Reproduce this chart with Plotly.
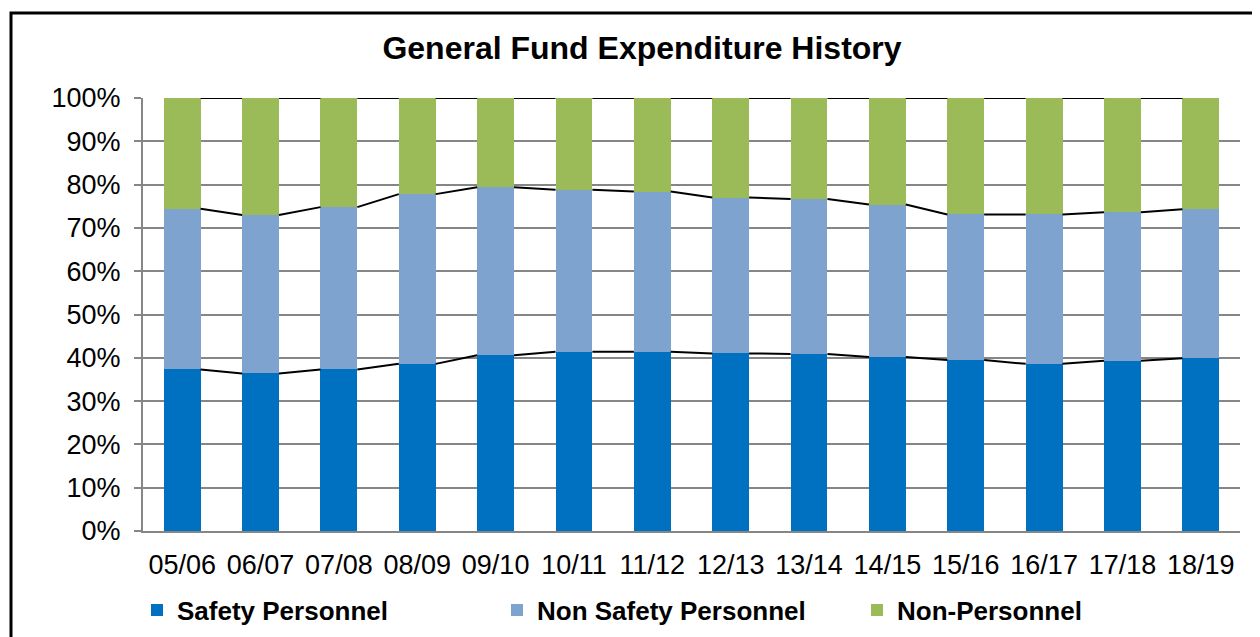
import plotly.graph_objects as go

# 회계연도별 일반기금 지출 비중 (%)
years = ['05/06', '06/07', '07/08', '08/09', '09/10', '10/11', '11/12',
         '12/13', '13/14', '14/15', '15/16', '16/17', '17/18', '18/19']
safety = [37.3, 36.4, 37.3, 38.6, 40.6, 41.4, 41.4, 41.0, 40.9, 40.2, 39.5, 38.6, 39.3, 39.9]
non_safety = [37.1, 36.6, 37.5, 39.2, 38.8, 37.4, 37.0, 36.0, 35.8, 35.2, 33.6, 34.5, 34.3, 34.4]
non_personnel = [25.6, 27.0, 25.2, 22.2, 20.6, 21.2, 21.6, 23.0, 23.3, 24.6, 26.9, 26.9, 26.4, 25.7]

names = ['Safety Personnel', 'Non Safety Personnel', 'Non-Personnel']
colors = ['#0070C0', '#7EA3CF', '#9BBB59']
BAR_W = 0.47
FONT = 'Liberation Sans, Arial, sans-serif'

# 페이지 body 기본 여백(8px)만큼 보정한 플롯 영역 (figure 좌표, px)
W, H = 1260, 637
OFF = 8
PL, PR = 143 - OFF, 1240 - OFF
PT, PB = 98 - OFF, 531 - OFF
PW, PH = PR - PL, PB - PT

xs = list(range(len(years)))
fig = go.Figure()

for vals, name, color in zip([safety, non_safety, non_personnel], names, colors):
    fig.add_trace(go.Bar(
        x=xs, y=vals, name=name, width=BAR_W,
        marker=dict(color=color, line=dict(width=0)),
    ))

# 계열선 (막대 사이 연결선)
cum = [0] * len(years)
for vals in [safety, non_safety, non_personnel]:
    cum = [c + v for c, v in zip(cum, vals)]
    lx, ly = [], []
    for i in range(len(years) - 1):
        lx += [i + BAR_W / 2, i + 1 - BAR_W / 2, None]
        ly += [cum[i], cum[i + 1], None]
    fig.add_trace(go.Scatter(
        x=lx, y=ly, mode='lines', showlegend=False, hoverinfo='skip',
        line=dict(color='black', width=2),
    ))

fig.update_layout(
    width=W, height=H,
    barmode='stack',
    plot_bgcolor='white',
    paper_bgcolor='white',
    margin=dict(l=PL, r=W - PR, t=PT, b=H - PB),
    font=dict(family=FONT, size=27, color='black'),
    title=dict(
        text='<b>General Fund Expenditure History</b>',
        x=(642 - OFF) / W, xref='container', xanchor='center',
        y=1 - (48 - OFF) / H, yref='container', yanchor='middle',
        font=dict(family=FONT, size=32, color='black'),
    ),
    legend=dict(
        orientation='h',
        x=(157 - OFF - 20 - PL) / PW, xanchor='left',
        y=(PB - (610 - OFF)) / PH, yanchor='middle',
        entrywidth=315, entrywidthmode='pixels',
        font=dict(family=FONT, size=26, color='black', weight='bold'),
        traceorder='normal',
    ),
    showlegend=True,
)

fig.update_xaxes(
    range=[-0.5, len(years) - 0.5],
    tickvals=xs, ticktext=years,
    showgrid=False,
    showline=True, linecolor='#868686', linewidth=2,
    ticks='outside', ticklen=9, tickcolor='rgba(0,0,0,0)',
    tickfont=dict(family=FONT, size=27, color='black'),
    zeroline=False, automargin=False,
)
fig.update_yaxes(
    range=[0, 100],
    tick0=0, dtick=10, ticksuffix='%',
    showgrid=True, gridcolor='#868686', gridwidth=2,
    showline=True, linecolor='#868686', linewidth=2,
    ticks='outside', ticklen=7, tickcolor='#868686', tickwidth=2,
    ticklabelstandoff=8,
    tickfont=dict(family=FONT, size=27, color='black'),
    zeroline=False, automargin=False,
)

# 차트 테두리 (오른쪽/아래는 화면 밖으로 잘림)
fig.add_shape(type='rect', xref='paper', yref='paper',
              x0=(11 - OFF - PL) / PW, x1=(1300 - PL) / PW,
              y0=(PB - 700) / PH, y1=(PB - (13 - OFF)) / PH,
              line=dict(color='black', width=3), layer='below')

fig.write_html('out.html')
